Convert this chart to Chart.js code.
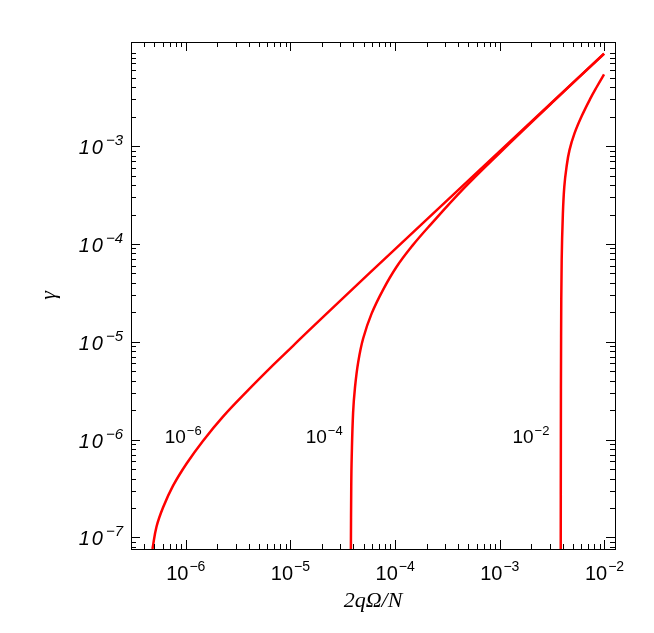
<!DOCTYPE html>
<html>
<head>
<meta charset="utf-8">
<script src="https://cdn.jsdelivr.net/npm/chart.js@4.4.1/dist/chart.umd.min.js"></script>
<style>
  html, body { margin: 0; padding: 0; background: #fff; }
</style>
</head>
<body>
<canvas id="chart" width="654" height="633"></canvas>
<script>
// values: x = 2qΩ/N, y = γ
const xCurve6 = [4.81e-7, 5.25e-7, 6.07e-7, 7.57e-7, 1.02e-6, 1.46e-6, 2.27e-6, 3.80e-6, 6.82e-6, 1.06e-5, 1.47e-5, 3.16e-5, 1.0e-4, 3.16e-4, 1.0e-3, 3.16e-3, 9.91e-3];
const yCurve6 = [7.62e-8, 1.28e-7, 2.02e-7, 3.38e-7, 5.70e-7, 9.70e-7, 1.72e-6, 3.08e-6, 5.78e-6, 9.10e-6, 1.28e-5, 2.78e-5, 8.86e-5, 2.81e-4, 8.89e-4, 2.81e-3, 8.82e-3];

const xCurve4 = [3.78e-5, 3.81e-5, 3.85e-5, 3.97e-5, 4.13e-5, 4.44e-5, 4.95e-5, 5.96e-5, 7.69e-5, 1.03e-4, 1.45e-4, 2.15e-4, 4.48e-4, 1.0e-3, 3.16e-3, 9.91e-3];
const yCurve4 = [7.62e-8, 3.3e-7, 6.7e-7, 1.9e-6, 3.35e-6, 6.2e-6, 1.08e-5, 1.94e-5, 3.42e-5, 5.82e-5, 9.5e-5, 1.55e-4, 3.66e-4, 8.56e-4, 2.78e-3, 8.79e-3];

const xCurve2 = [3.82e-3, 3.83e-3, 3.85e-3, 3.90e-3, 4.00e-3, 4.13e-3, 4.34e-3, 4.63e-3, 5.17e-3, 6.06e-3, 7.32e-3, 8.48e-3, 9.90e-3];
const yCurve2 = [7.62e-8, 9.93e-7, 1.12e-5, 6.82e-5, 1.97e-4, 3.84e-4, 6.14e-4, 9.10e-4, 1.35e-3, 2.03e-3, 3.06e-3, 4.07e-3, 5.41e-3];

const xMajor = [1e-6, 1e-5, 1e-4, 1e-3, 1e-2];
const xMajorExp = ['−6', '−5', '−4', '−3', '−2'];
const yMajor = [1e-7, 1e-6, 1e-5, 1e-4, 1e-3];
const yMajorExp = ['−7', '−6', '−5', '−4', '−3'];

const curveNames = ['−6', '−4', '−2'];
const curveNameX = [6.3e-7, 1.40e-5, 1.32e-3];
const curveNameY = [9.2e-7, 9.2e-7, 9.2e-7];

const xTitle = '2qΩ/N';
const yTitle = 'γ';

const RED = '#ff0000';
const SANS = '"Liberation Sans", Arial, sans-serif';
const SERIF = '"Liberation Serif", "DejaVu Serif", serif';

function pts(xs, ys) { return xs.map((x, i) => ({ x, y: ys[i] })); }

function minorTicks(min, max) {
  const out = [];
  for (let e = -9; e <= -1; e++) {
    for (let m = 2; m <= 9; m++) {
      const v = m * Math.pow(10, e);
      if (v > min && v < max) out.push(v);
    }
  }
  return out;
}

// "10" with a raised exponent
function pow10(ctx, exp, x0, base, size, supSize, italic, supRise, spacing) {
  const st = italic ? 'italic ' : '';
  ctx.font = st + size + 'px ' + SANS;
  ctx.letterSpacing = (spacing || 0) + 'px';
  const w10 = ctx.measureText('10').width;
  ctx.fillText('10', x0, base);
  ctx.letterSpacing = '0px';
  ctx.font = st + supSize + 'px ' + SANS;
  ctx.fillText(exp, x0 + w10 + 1, base - supRise);
}
function pow10Width(ctx, exp, size, supSize, italic, spacing) {
  const st = italic ? 'italic ' : '';
  ctx.font = st + size + 'px ' + SANS;
  ctx.letterSpacing = (spacing || 0) + 'px';
  const a = ctx.measureText('10').width;
  ctx.letterSpacing = '0px';
  ctx.font = st + supSize + 'px ' + SANS;
  return a + 1 + ctx.measureText(exp).width;
}

const frame = {
  id: 'frame',
  afterDraw(chart) {
    const { ctx, chartArea: a, scales: { x, y } } = chart;
    ctx.save();
    ctx.strokeStyle = '#000';
    ctx.lineWidth = 1;
    ctx.strokeRect(a.left + 0.5, a.top + 0.5, a.right - a.left, a.bottom - a.top);

    ctx.beginPath();
    const xt = (vals, len) => vals.forEach(v => {
      const p = Math.round(x.getPixelForValue(v)) + 0.5;
      ctx.moveTo(p, a.bottom); ctx.lineTo(p, a.bottom - len);
      ctx.moveTo(p, a.top); ctx.lineTo(p, a.top + len);
    });
    const yt = (vals, len) => vals.forEach(v => {
      const p = Math.round(y.getPixelForValue(v)) + 0.5;
      ctx.moveTo(a.left, p); ctx.lineTo(a.left + len, p);
      ctx.moveTo(a.right, p); ctx.lineTo(a.right - len, p);
    });
    xt(xMajor, 9); xt(minorTicks(x.min, x.max), 5);
    yt(yMajor, 9); yt(minorTicks(y.min, y.max), 5);
    ctx.stroke();

    ctx.fillStyle = '#000';
    ctx.textAlign = 'left';
    ctx.textBaseline = 'alphabetic';
    xMajor.forEach((v, i) => {
      const w = pow10Width(ctx, xMajorExp[i], 20, 14, false, 0);
      const p = x.getPixelForValue(v);
      pow10(ctx, xMajorExp[i], p - w / 2, a.bottom + 31, 20, 14, false, 9, 0);
    });
    yMajor.forEach((v, i) => {
      const w = pow10Width(ctx, yMajorExp[i], 20, 15, true, 2);
      const p = y.getPixelForValue(v);
      pow10(ctx, yMajorExp[i], a.left - 8 - w, p + 8, 20, 15, true, 9, 2);
    });
    curveNames.forEach((t, i) => {
      pow10(ctx, t, x.getPixelForValue(curveNameX[i]), y.getPixelForValue(curveNameY[i]), 19, 13, false, 8, 0);
    });

    ctx.textAlign = 'center';
    ctx.font = 'italic 22px ' + SERIF;
    ctx.fillText(xTitle, (a.left + a.right) / 2, a.bottom + 58);
    ctx.translate(55, (a.top + a.bottom) / 2);
    ctx.rotate(-Math.PI / 2);
    ctx.fillText(yTitle, 0, 0);
    ctx.restore();
  }
};

new Chart(document.getElementById('chart'), {
  type: 'line',
  data: {
    datasets: [
      { data: pts(xCurve6, yCurve6) },
      { data: pts(xCurve4, yCurve4) },
      { data: pts(xCurve2, yCurve2) }
    ].map(d => Object.assign(d, {
      borderColor: RED, borderWidth: 2.5, pointRadius: 0,
      tension: 0.4, fill: false
    }))
  },
  options: {
    responsive: false,
    animation: false,
    devicePixelRatio: 1,
    layout: { padding: { left: 0, right: 39, top: 42, bottom: 0 } },
    plugins: { legend: { display: false }, tooltip: { enabled: false } },
    scales: {
      x: {
        type: 'logarithmic', min: 3e-7, max: 1.26e-2,
        grid: { display: false }, border: { display: false }, ticks: { display: false },
        afterFit: s => { s.height = 84; }
      },
      y: {
        type: 'logarithmic', min: 7.62e-8, max: 1.16e-2,
        grid: { display: false }, border: { display: false }, ticks: { display: false },
        afterFit: s => { s.width = 131; }
      }
    }
  },
  plugins: [frame]
});
</script>
</body>
</html>
